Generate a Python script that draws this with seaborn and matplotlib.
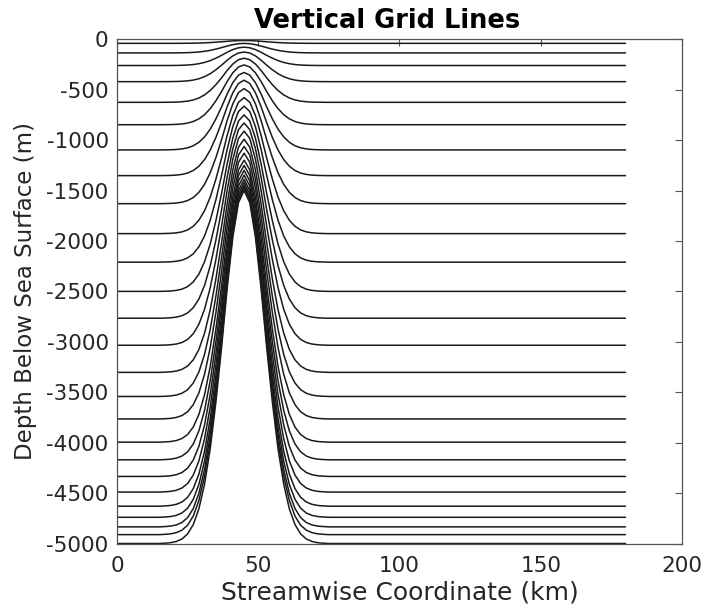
import numpy as np
import pandas as pd
import matplotlib
matplotlib.use("Agg")
import matplotlib.pyplot as plt
import seaborn as sns

# Far-field depth (m) of each terrain-following grid level, surface to sea floor
level_depth_m = [0, 40, 135, 260, 420, 625, 847, 1097, 1352, 1630, 1927, 2210,
                 2500, 2766, 3034, 3303, 3542, 3765, 3995, 4170, 4335, 4490,
                 4630, 4740, 4835, 4912, 5000]

# Sea-floor depth (m) along the streamwise coordinate (km), seamount near 45 km
bathy_x_km = [0, 15, 17, 19, 21, 23, 25, 27, 29, 31, 33, 35, 37, 39, 41, 43, 45,
              47, 49, 51, 53, 55, 57, 59, 61, 63, 65, 67, 69, 71, 73, 75, 180]
bathy_depth_m = [5000, 5000, 4997, 4992, 4980, 4955, 4905, 4812, 4655, 4410,
                 4060, 3600, 3060, 2470, 1960, 1620, 1500, 1620, 1960, 2470,
                 3060, 3600, 4060, 4410, 4655, 4812, 4905, 4955, 4980, 4992,
                 4997, 5000, 5000]
full_depth_m = 5000

x_ticks = [0, 50, 100, 150, 200]
y_ticks = list(range(-5000, 1, 500))

# Each level follows the terrain: z = -(fraction of full depth) * local depth
rows = []
for lev in level_depth_m:
    frac = lev / full_depth_m
    for xk, h in zip(bathy_x_km, bathy_depth_m):
        rows.append((lev, xk, -frac * h))
grid = pd.DataFrame(rows, columns=["level", "x", "z"])

sns.set_style("white")
plt.rcParams["font.family"] = ["DejaVu Sans"]

fig = plt.figure(figsize=(7.02, 6.10), dpi=100)
ax = fig.add_axes([117 / 702, 1 - 543.5 / 610, (682 - 117) / 702, (543.5 - 39.3) / 610])

sns.lineplot(data=grid, x="x", y="z", units="level", estimator=None,
             color="#1a1a1a", linewidth=1.1, sort=False, legend=False, ax=ax)

ax.set_xlim(0, 200)
ax.set_ylim(-5000, 0)
ax.set_xticks(x_ticks)
ax.set_yticks(y_ticks)
ax.set_xticklabels([str(t) for t in x_ticks])
ax.set_yticklabels([str(t) for t in y_ticks])

text_col = "#262626"
for sp in ax.spines.values():
    sp.set_visible(True)
    sp.set_color("#555555")
    sp.set_linewidth(0.9)
ax.tick_params(direction="in", length=5, width=0.8, top=True, right=True,
               labelsize=15.5, colors="#555555", labelcolor=text_col)
ax.tick_params(axis="x", pad=9)
ax.tick_params(axis="y", pad=6)

ax.set_xlabel("Streamwise Coordinate (km)", fontsize=18, color=text_col, labelpad=3)
ax.set_ylabel("Depth Below Sea Surface (m)", fontsize=16.5, color=text_col, labelpad=7)
ax.set_title("Vertical Grid Lines", fontsize=18.5, fontweight="bold", color="black",
             pad=8, x=(387 - 117) / 565)

fig.savefig("out.png", dpi=100, facecolor="white")
